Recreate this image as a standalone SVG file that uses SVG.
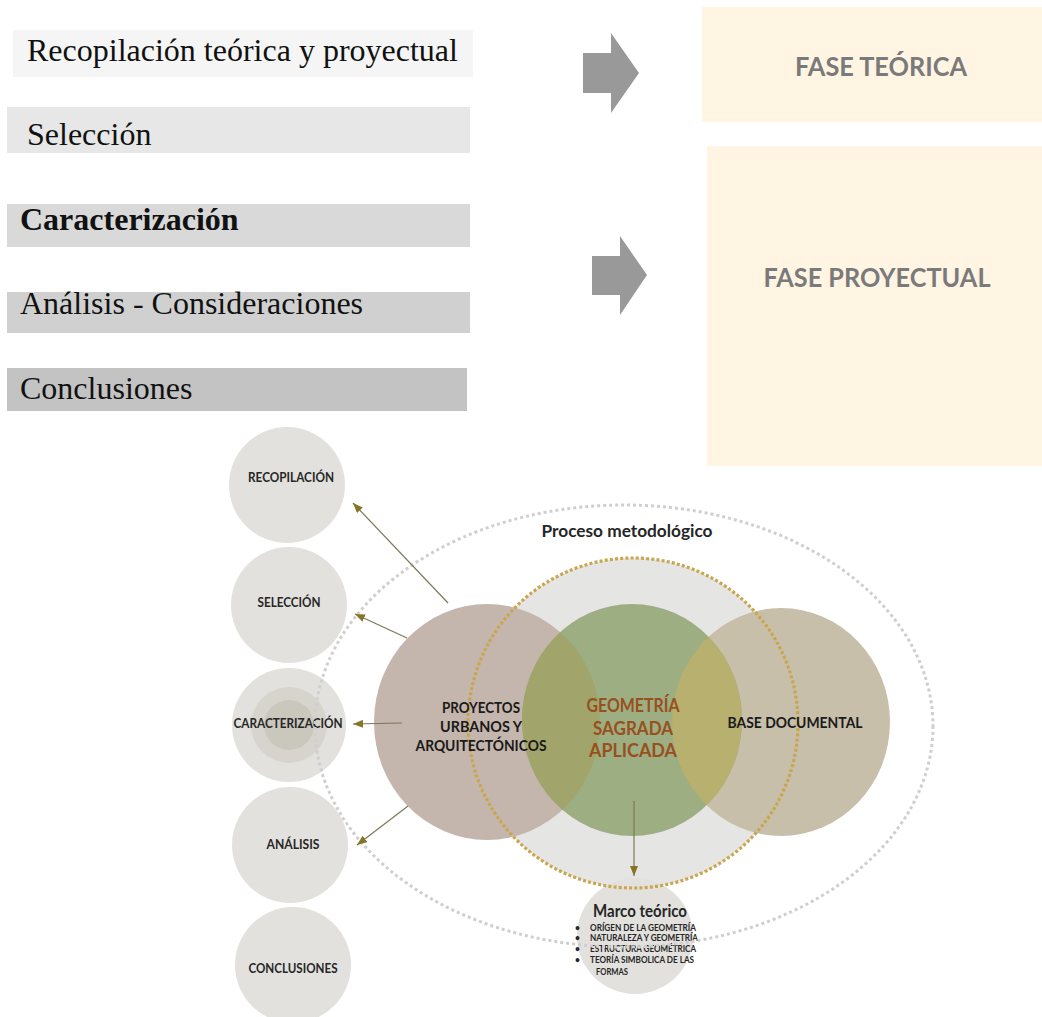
<svg xmlns="http://www.w3.org/2000/svg" width="1042" height="1017" viewBox="0 0 1042 1017">
  <style>
    .serif { font-family: "Liberation Serif", "Times New Roman", serif; font-size: 32px; fill: #111; }
    .phase { font-family: Lato, "Open Sans", sans-serif; font-weight: bold; font-size: 26px; fill: #7a7a7a; text-anchor: middle; }
    .lbl { font-family: Lato, "Open Sans", sans-serif; font-weight: bold; fill: #262626; text-anchor: middle; }
    .step { font-size: 13.5px; }
    .core { font-size: 15.5px; fill: #1a1a1a; }
    .geo { font-size: 18px; fill: #98501c; }
    .item { font-family: Lato, "Open Sans", sans-serif; font-weight: bold; font-size: 8.5px; fill: #262626; }
    .blockArrow { fill: #999999; }
    .link { stroke: #7d7756; stroke-width: 1.2; fill: none; marker-end: url(#tip); }
    .stepCircle { fill: #e2e1dd; }
  </style>
  <defs>
    <marker id="tip" viewBox="0 0 10 8" refX="10" refY="4" markerWidth="10" markerHeight="8" markerUnits="userSpaceOnUse" orient="auto">
      <path d="M0,0 L10,4 L0,8 z" fill="#857626"/>
    </marker>
    <clipPath id="clipProy"><ellipse cx="487" cy="722" rx="113" ry="118"/></clipPath>
    <clipPath id="clipBase"><ellipse cx="781" cy="722" rx="109" ry="114"/></clipPath>
  </defs>

  <rect width="1042" height="1017" fill="#ffffff"/>

  <!-- process steps (text bars) -->
  <g id="bar-recopilacion">
    <rect x="13" y="30" width="460" height="47" fill="#f5f5f5"/>
    <text class="serif" x="27" y="61">Recopilación teórica y proyectual</text>
  </g>
  <g id="bar-seleccion">
    <rect x="7" y="107" width="463" height="46" fill="#e7e7e7"/>
    <text class="serif" x="27" y="145">Selección</text>
  </g>
  <g id="bar-caracterizacion">
    <rect x="7" y="204" width="463" height="43" fill="#d9d9d9"/>
    <text class="serif" x="20" y="230" font-weight="bold">Caracterización</text>
  </g>
  <g id="bar-analisis">
    <rect x="7" y="292" width="463" height="41" fill="#d0d0d0"/>
    <text class="serif" x="20" y="314">Análisis - Consideraciones</text>
  </g>
  <g id="bar-conclusiones">
    <rect x="7" y="368" width="460" height="43" fill="#c3c3c3"/>
    <text class="serif" x="20" y="399">Conclusiones</text>
  </g>

  <!-- block arrows -->
  <g id="arrow-teorica">
    <polygon class="blockArrow" points="583,53 611,53 611,33 639,73 611,113 611,93 583,93"/>
  </g>
  <g id="arrow-proyectual">
    <polygon class="blockArrow" points="592,256 620,256 620,236 647,275 620,315 620,295 592,295"/>
  </g>

  <!-- phases -->
  <g id="fase-teorica">
    <rect x="702" y="7" width="340" height="115" fill="#fff5e2"/>
    <text class="phase" x="881" y="76" textLength="172" lengthAdjust="spacingAndGlyphs">FASE TEÓRICA</text>
  </g>
  <g id="fase-proyectual">
    <rect x="707" y="146" width="335" height="320" fill="#fff5e2"/>
    <text class="phase" x="877" y="287" textLength="227" lengthAdjust="spacingAndGlyphs">FASE PROYECTUAL</text>
  </g>

  <!-- step circles -->
  <g id="c-recopilacion">
    <circle class="stepCircle" cx="287" cy="485" r="58"/>
    <text class="lbl step" x="291" y="482" textLength="86" lengthAdjust="spacingAndGlyphs">RECOPILACIÓN</text>
  </g>
  <g id="c-seleccion">
    <circle class="stepCircle" cx="289" cy="605" r="58"/>
    <text class="lbl step" x="289" y="607" textLength="63" lengthAdjust="spacingAndGlyphs">SELECCIÓN</text>
  </g>
  <g id="c-caracterizacion">
    <circle class="stepCircle" cx="289" cy="725" r="57"/>
    <circle cx="289" cy="725" r="38" fill="#d6d4cd"/>
    <circle cx="289" cy="725" r="25" fill="#cac7bc"/>
    <text class="lbl step" x="288" y="728" textLength="109" lengthAdjust="spacingAndGlyphs">CARACTERIZACIÓN</text>
  </g>
  <g id="c-analisis">
    <circle class="stepCircle" cx="290" cy="845" r="58"/>
    <text class="lbl step" x="293" y="849" textLength="53" lengthAdjust="spacingAndGlyphs">ANÁLISIS</text>
  </g>
  <g id="c-conclusiones">
    <circle class="stepCircle" cx="293" cy="965" r="58"/>
    <text class="lbl step" x="293" y="973" textLength="89" lengthAdjust="spacingAndGlyphs">CONCLUSIONES</text>
  </g>

  <!-- central composition -->
  <g id="geometria-marco">
    <circle cx="633" cy="723" r="165" fill="#e5e5e3"/>
  </g>
  <g id="proyectos">
    <ellipse cx="487" cy="722" rx="113" ry="118" fill="#c4b6ac"/>
  </g>
  <g id="base-documental">
    <ellipse cx="781" cy="722" rx="109" ry="114" fill="#c8bfaa"/>
  </g>
  <g id="geometria">
    <ellipse cx="632" cy="720" rx="110" ry="116" fill="#9dae82"/>
    <ellipse cx="632" cy="720" rx="110" ry="116" fill="#a1a56c" clip-path="url(#clipProy)"/>
    <ellipse cx="632" cy="720" rx="110" ry="116" fill="#b7b06f" clip-path="url(#clipBase)"/>
  </g>

  <g id="marco-teorico">
    <circle cx="635" cy="936" r="58" fill="#e2e1dd"/>
    <text class="lbl" x="640" y="917" font-size="16.5" fill="#111" textLength="94" lengthAdjust="spacingAndGlyphs">Marco teórico</text>
    <g class="item">
      <text x="575" y="931">•</text><text x="590" y="931" textLength="106" lengthAdjust="spacingAndGlyphs">ORÍGEN DE LA GEOMETRÍA</text>
      <text x="575" y="941">•</text><text x="590" y="941" textLength="108" lengthAdjust="spacingAndGlyphs">NATURALEZA Y GEOMETRÍA</text>
      <text x="575" y="952">•</text><text x="590" y="952" textLength="106" lengthAdjust="spacingAndGlyphs">ESTRUCTURA GEOMÉTRICA</text>
      <text x="575" y="963">•</text><text x="590" y="963" textLength="104" lengthAdjust="spacingAndGlyphs">TEORÍA SIMBOLICA DE LAS</text>
      <text x="596" y="975" textLength="32" lengthAdjust="spacingAndGlyphs">FORMAS</text>
    </g>
  </g>

  <!-- dotted outlines -->
  <ellipse cx="624" cy="726" rx="309" ry="221" fill="none" stroke="#cfcfcf" stroke-width="3" stroke-dasharray="3 3"/>
  <circle cx="633" cy="723" r="165" fill="none" stroke="#c9a64e" stroke-width="3.2" stroke-dasharray="3 2.2"/>

  <!-- labels of the central composition -->
  <text class="lbl" x="627" y="537" font-size="17" fill="#111" textLength="171" lengthAdjust="spacingAndGlyphs">Proceso metodológico</text>
  <g id="proyectos-label">
    <text class="lbl core" x="481" y="713" textLength="78" lengthAdjust="spacingAndGlyphs">PROYECTOS</text>
    <text class="lbl core" x="481" y="732" textLength="82" lengthAdjust="spacingAndGlyphs">URBANOS Y</text>
    <text class="lbl core" x="481" y="751" textLength="131" lengthAdjust="spacingAndGlyphs">ARQUITECTÓNICOS</text>
  </g>
  <g id="geometria-label">
    <text class="lbl geo" x="633" y="712" textLength="93" lengthAdjust="spacingAndGlyphs">GEOMETRÍA</text>
    <text class="lbl geo" x="633" y="735" textLength="80" lengthAdjust="spacingAndGlyphs">SAGRADA</text>
    <text class="lbl geo" x="633" y="757" textLength="88" lengthAdjust="spacingAndGlyphs">APLICADA</text>
  </g>
  <g id="base-label">
    <text class="lbl core" x="795" y="728" textLength="135" lengthAdjust="spacingAndGlyphs">BASE DOCUMENTAL</text>
  </g>

  <!-- connectors -->
  <g id="connectors">
    <line class="link" x1="448" y1="603" x2="353" y2="503"/>
    <line class="link" x1="407" y1="638" x2="355" y2="614"/>
    <line class="link" x1="402" y1="723" x2="353" y2="724"/>
    <line class="link" x1="408" y1="806" x2="357" y2="845"/>
    <line class="link" x1="634" y1="801" x2="634" y2="876"/>
  </g>
</svg>
